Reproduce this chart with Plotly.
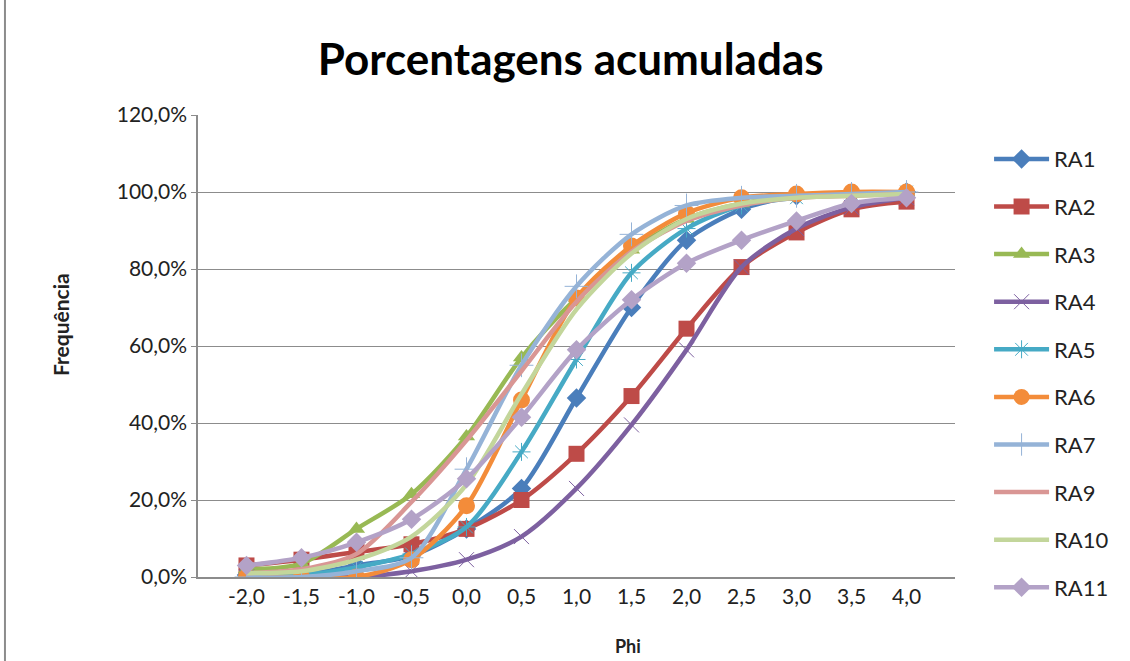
import plotly.graph_objects as go

# Phi classes (category axis labels)
phi = ["-2,0", "-1,5", "-1,0", "-0,5", "0,0", "0,5", "1,0", "1,5", "2,0", "2,5", "3,0", "3,5", "4,0"]

# Cumulative percentages per sample
ra1 = [0.5, 0.5, 3.0, 5.5, 12.5, 23.0, 46.5, 70.0, 87.5, 95.5, 99.0, 99.5, 100.0]
ra2 = [3.0, 4.5, 6.5, 8.5, 12.5, 20.0, 32.0, 47.0, 64.5, 80.5, 89.5, 95.5, 97.5]
ra3 = [2.0, 3.5, 12.5, 21.5, 36.5, 57.0, 72.5, 85.0, 93.0, 97.0, 99.0, 99.5, 100.0]
ra4 = [0.0, 0.0, 0.0, 1.5, 4.5, 10.5, 23.0, 39.5, 59.0, 80.5, 90.5, 96.0, 98.5]
ra5 = [0.0, 0.5, 2.5, 6.0, 13.0, 32.5, 56.5, 79.0, 90.5, 96.5, 98.5, 99.5, 100.0]
ra6 = [0.0, 0.0, 0.0, 4.5, 18.5, 46.0, 72.5, 86.0, 94.5, 98.5, 99.5, 100.0, 100.0]
ra7 = [0.0, 0.0, 1.5, 5.0, 28.0, 55.0, 75.5, 89.0, 96.5, 98.5, 99.0, 99.5, 100.0]
ra9 = [1.0, 2.0, 6.0, 19.5, 35.5, 53.5, 71.5, 84.5, 92.5, 96.5, 98.5, 99.0, 99.5]
ra10 = [1.0, 1.5, 4.5, 10.5, 24.0, 47.5, 69.5, 84.0, 93.0, 97.0, 98.5, 99.0, 99.5]
ra11 = [3.0, 5.0, 9.0, 15.0, 25.5, 41.5, 59.0, 72.0, 81.5, 87.5, 92.5, 97.0, 98.5]

series = [
    ("RA1", ra1, "#4A7EBB", "diamond", 15, 0),
    ("RA2", ra2, "#BE4B48", "square", 16, 0),
    ("RA3", ra3, "#98B954", "triangle-up", 15, 0),
    ("RA4", ra4, "#7D60A0", "x-thin", 15, 1),
    ("RA5", ra5, "#46AAC5", "asterisk", 15, 1),
    ("RA6", ra6, "#F38C3A", "circle", 17, 0),
    ("RA7", ra7, "#95B3D7", "cross-thin", 17, 1),
    ("RA9", ra9, "#D99694", None, 0, 0),
    ("RA10", ra10, "#C3D69B", None, 0, 0),
    ("RA11", ra11, "#B3A2C7", "diamond", 15, 0),
]

fig = go.Figure()
for i, (name, vals, color, symbol, size, lw) in enumerate(series):
    marker = dict(symbol=symbol, size=size, color=color,
                  line=dict(color=color, width=lw)) if symbol else None
    fig.add_trace(go.Scatter(
        x=phi, y=vals, name=name,
        mode="lines+markers" if symbol else "lines",
        line=dict(color=color, width=4.5, shape="spline", smoothing=0.8),
        marker=marker,
        legendgroup=f"g{i}",
    ))

fig.update_layout(
    width=1130, height=661,
    margin=dict(l=198, r=175, t=115, b=84),
    paper_bgcolor="white", plot_bgcolor="white",
    font=dict(family="Lato, 'Open Sans', sans-serif", color="#222222"),
    title=dict(text="<b>Porcentagens acumuladas</b>", x=0.505, xanchor="center",
               y=0.91, yanchor="middle", font=dict(size=44, color="black")),
    separators=",.",
    showlegend=True,
    legend=dict(x=1.045, xanchor="left", y=0.95, yanchor="top",
                traceorder="grouped", tracegroupgap=16, maxheight=900,
                itemwidth=55, font=dict(size=22, color="#222222"),
                bgcolor="rgba(0,0,0,0)"),
    xaxis=dict(type="category", showgrid=False, showline=True,
               linecolor="#8c8c8c", linewidth=1.5,
               ticks="", tickfont=dict(size=21)),
    yaxis=dict(range=[0, 120], dtick=20, tickformat=".1f", ticksuffix="%",
               showgrid=True, gridcolor="#8c8c8c", gridwidth=1.2,
               showline=True, linecolor="#8c8c8c", linewidth=1.5,
               ticks="outside", ticklen=5, tickcolor="#8c8c8c",
               zeroline=False, tickfont=dict(size=21)),
    annotations=[
        dict(text="<b>Phi</b>", xref="paper", yref="paper",
             x=(628 - 198) / 757, y=-(646 - 577) / 462,
             xanchor="center", yanchor="middle", showarrow=False,
             font=dict(size=18, color="#222222")),
        dict(text="<b>Frequência</b>", xref="paper", yref="paper",
             x=-(198 - 60) / 757, y=(577 - 325) / 462, textangle=-90,
             xanchor="center", yanchor="middle", showarrow=False,
             font=dict(size=21, color="#222222")),
    ],
    shapes=[dict(type="line", xref="paper", yref="paper",
                 x0=-0.255, x1=-0.255, y0=-0.2, y1=1.3,
                 line=dict(color="#8c8c8c", width=2))],
)

fig.write_html("out.html")
